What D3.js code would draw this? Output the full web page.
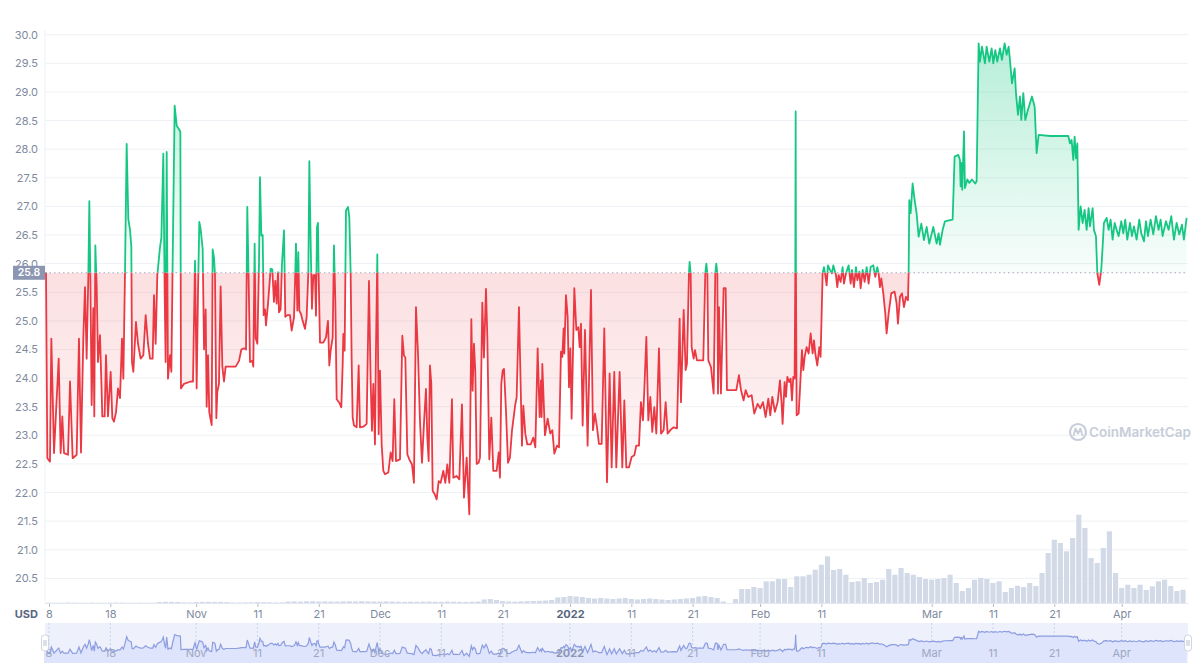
<!DOCTYPE html>
<html><head><meta charset="utf-8">
<script src="https://cdn.jsdelivr.net/npm/d3@7"></script>
<style>body{margin:0;background:#fff;}svg{display:block;font-family:Inter,"Noto Sans",sans-serif;}</style>
</head><body><svg id="c" width="1200" height="670"></svg>
<script>
// ---------- DATA ----------
const startDate = Date.UTC(2021, 9, 8); // day 0 = 8 Oct 2021
const priceDays = [
-0.82,-0.49,-0.27,0.16,0.38,0.82,1.58,1.9,2.17,2.45,3.1,3.43,3.86,4.51,4.89,5.22,5.6,5.87,6.14,6.42,6.58,6.74,6.96,7.23,7.39,7.56,7.78,7.99,8.32,8.54,8.7,9.08,9.3,9.62,10.06,10.33,10.6,10.93,11.26,11.58,11.91,12.13,12.4,12.67,12.94,13.21,13.43,13.54,13.76,14.19,14.52,14.95,15.39,15.77,16.15,16.48,16.91,17.13,17.4,17.67,18.11,18.33,18.65,18.87,19.03,19.2,19.41,19.74,19.96,20.17,20.5,20.83,21.21,21.43,21.53,22.02,23.11,23.49,23.82,24.09,24.31,24.52,24.74,25.07,25.29,25.56,25.72,25.94,26.15,26.54,26.7,26.92,27.08,27.3,27.46,27.73,28.0,28.28,28.55,28.82,29.64,30.45,31.0,31.38,31.81,32.14,32.35,32.57,32.79,33.17,33.33,33.55,33.71,33.99,34.26,34.42,34.64,34.86,35.02,35.24,35.4,35.73,36.16,36.43,36.7,36.92,37.14,37.36,37.52,37.79,38.01,38.34,38.55,38.88,39.31,
39.59,39.97,40.18,40.29,40.51,40.67,40.84,41.11,41.38,41.76,42.03,42.31,42.47,42.69,42.9,43.12,43.39,43.56,43.72,43.88,43.99,44.21,44.75,45.19,45.51,45.73,45.95,46.28,46.49,46.71,46.93,47.36,47.69,47.91,48.02,48.23,48.45,48.78,48.99,49.21,49.37,49.54,49.76,50.19,50.52,50.73,51.28,51.82,52.2,52.47,52.69,52.91,53.18,53.34,53.56,53.78,54.0,54.27,54.54,54.81,55.36,55.74,56.06,56.33,56.61,57.26,57.64,57.91,58.13,58.46,58.78,59.22,59.54,59.87,60.2,60.52,60.85,61.17,61.5,61.72,61.94,62.15,62.37,62.59,62.92,63.24,63.57,63.89,64.33,64.65,64.98,65.31,65.74,65.96,66.5,66.94,67.37,67.7,68.14,68.57,68.9,69.11,69.33,69.55,69.77,70.09,70.31,70.69,70.96,71.29,71.51,71.83,72.16,72.48,73.03,73.36,73.57,73.79,74.01,74.23,74.55,74.88,75.2,75.53,76.07,76.29,76.67,76.94,77.16,77.38,77.71,78.03,78.58,79.01,79.34,
79.72,80.04,80.26,80.37,80.48,80.91,81.35,81.78,82.11,82.44,82.87,83.2,83.52,83.74,83.96,84.07,84.34,84.61,84.83,85.05,85.26,85.7,86.03,86.35,86.57,86.79,87.06,87.44,87.87,88.42,88.74,89.07,89.4,89.72,90.16,90.59,91.03,91.46,91.79,92.22,92.55,93.09,93.53,93.86,94.18,94.62,95.05,95.49,95.81,96.25,96.57,96.9,97.12,97.45,97.77,98.1,98.42,98.75,99.08,99.51,99.84,100.27,100.6,100.92,101.36,101.9,102.45,102.88,103.1,103.54,103.86,104.08,104.4,104.51,104.68,104.84,105.17,105.38,105.71,106.74,107.07,107.24,107.4,107.56,108.0,108.43,108.7,108.86,109.03,109.14,109.3,109.62,110.06,110.39,110.6,112.13,112.56,112.89,113.32,113.65,114.08,114.63,115.06,115.61,116.04,116.48,116.91,117.35,117.67,118.0,118.43,118.87,
119.25,119.52,119.68,120.01,120.23,120.45,120.77,120.99,121.21,121.42,121.64,121.75,121.81,121.86,121.97,122.3,122.51,122.84,123.06,123.28,123.6,123.93,124.26,124.58,124.8,125.01,125.34,125.67,125.88,126.21,126.43,126.64,126.86,127.08,127.41,127.73,127.95,128.38,128.6,128.82,129.15,129.47,129.69,130.02,130.45,130.78,131.0,131.32,131.65,131.87,132.2,132.41,132.74,133.06,133.39,133.71,134.04,134.48,134.8,135.13,135.34,135.56,135.78,136.11,136.43,136.65,136.98,137.41,137.95,138.28,138.5,138.83,139.15,139.48,139.8,140.13,140.24,140.35,140.57,140.89,141.22,141.54,141.87,142.31,142.74,143.18,143.61,144.26,144.81,145.13,
145.35,145.79,146.17,146.98,147.42,147.74,148.34,148.61,148.72,148.83,148.99,149.27,149.43,149.81,150.14,150.57,151.11,151.33,151.66,151.88,152.2,152.69,152.96,153.4,153.78,154.05,154.38,154.7,155.14,155.46,155.9,156.23,156.56,156.77,157.1,157.54,157.75,158.08,158.4,158.62,158.95,159.27,159.71,160.36,160.8,161.12,161.45,163.3,166.29,166.56,166.83,167.1,167.32,167.54,167.76,167.97,168.3,168.62,168.95,169.28,169.6,169.82,170.26,170.47,170.8,171.02,171.34,171.67,171.89,172.1,172.54,172.87,173.19,173.52,173.85,174.17,174.5,174.93,175.26,175.58,175.91,176.35,176.67,177.0,177.43,177.87,178.19,178.63,178.96,179.28,179.72,180.15,180.59,181.02,181.35,181.67,182.22,182.65,183.09,183.52,183.96,184.39,184.83,185.15,185.59
];
const priceValues = [
25.84,25.84,22.6,22.54,24.69,22.69,24.34,22.69,23.33,22.69,22.66,23.94,22.6,22.66,24.69,22.7,24.7,25.59,24.34,25.8,27.09,25.8,23.53,25.22,23.33,26.32,25.6,24.28,24.75,23.94,23.33,23.33,24.4,23.33,24.11,23.3,23.24,23.4,23.82,23.65,24.69,23.99,25.85,28.09,26.78,26.6,26.3,24.28,24.11,24.98,24.6,24.34,24.4,25.1,24.6,24.34,24.34,25.45,24.6,25.8,26.29,26.45,27.92,25.5,24.28,27.95,23.99,24.4,24.11,26.0,28.76,28.41,28.35,28.3,23.82,23.9,23.94,23.94,26.05,23.82,25.5,26.73,26.6,26.26,24.5,25.2,23.5,24.4,23.4,23.18,26.25,26.1,25.8,23.3,23.76,23.9,25.6,24.2,23.94,24.2,24.2,24.2,24.3,24.5,24.52,24.5,26.99,25.7,24.28,24.3,24.2,26.35,24.7,24.6,26.0,27.51,26.49,26.5,25.1,25.2,24.92,25.3,25.91,25.9,25.33,25.7,25.3,25.85,25.15,25.2,26.0,26.58,25.07,25.1,25.1,
24.83,25.06,25.85,26.35,25.18,26.2,25.18,25.12,25.0,24.86,25.06,25.85,27.79,26.35,25.21,25.8,25.8,25.09,26.64,26.71,25.8,24.62,24.62,24.71,25.0,24.22,24.48,24.71,26.32,25.35,23.63,23.57,23.49,24.24,24.77,24.48,26.93,26.99,26.81,25.85,24.36,23.31,23.17,23.14,24.22,23.14,23.15,23.2,25.7,23.95,23.08,23.9,22.84,24.48,26.16,23.02,24.13,22.84,22.38,22.32,22.35,22.7,22.55,23.63,22.55,22.58,24.74,24.39,24.36,22.67,22.58,22.49,22.17,25.24,24.42,23.25,22.52,23.2,23.81,22.96,22.55,24.22,23.9,22.03,21.97,21.88,22.2,22.17,22.38,22.17,22.49,22.17,23.63,22.26,22.29,22.23,23.54,21.91,22.61,21.62,25.03,23.78,24.6,24.1,22.5,22.52,22.61,25.32,24.36,25.56,24.71,22.58,23.31,22.38,22.38,22.7,22.26,23.9,24.13,24.16,23.43,22.52,22.61,23.08,23.54,23.66,25.24,23.9,22.82,23.52,23.02,22.84,22.84,22.96,22.79,
24.52,23.32,23.96,23.32,24.25,23.0,23.29,23.03,23.09,22.68,22.82,22.79,24.46,24.37,24.87,24.43,25.45,25.07,23.84,24.52,23.29,25.57,24.84,24.89,24.54,24.95,23.17,24.84,22.82,25.54,23.09,23.38,23.14,22.85,22.85,24.87,22.18,24.08,22.44,24.11,22.44,24.11,22.44,23.61,22.44,22.44,22.62,22.65,22.82,22.82,23.58,23.26,23.79,24.72,23.26,23.67,23.06,23.49,23.03,24.52,23.03,23.09,23.58,23.03,23.09,23.14,23.12,25.04,23.58,25.19,24.14,24.25,25.83,26.03,25.83,24.54,24.34,24.49,24.31,24.31,25.83,26.0,25.83,24.31,24.19,23.73,25.83,26.0,25.83,23.73,25.24,23.73,25.57,25.57,23.79,23.79,24.05,23.79,23.61,23.79,23.67,23.7,23.38,23.55,23.47,23.58,23.32,23.64,23.35,23.67,23.41,23.58,
23.96,23.55,23.2,23.93,23.67,24.02,23.93,23.99,23.61,24.02,23.99,25.83,28.66,25.83,23.35,23.38,23.79,24.49,24.14,24.37,24.54,24.43,24.78,24.43,24.66,24.43,24.22,24.54,24.37,25.83,25.94,25.8,25.62,25.97,25.89,25.83,25.97,25.8,25.59,25.8,25.68,25.94,25.65,25.83,25.97,25.65,25.89,25.59,25.94,25.71,25.86,25.57,25.89,25.68,25.94,25.65,25.94,25.97,25.77,25.94,25.83,25.59,25.74,25.48,25.13,24.78,25.13,25.48,25.51,25.3,24.95,25.42,25.48,25.24,25.42,25.36,25.83,27.11,26.88,27.4,27.11,26.88,26.47,26.7,26.41,26.64,26.35,26.64,26.35,26.53,
26.33,26.59,26.74,26.76,26.77,27.87,27.9,27.81,27.35,27.76,27.29,28.31,27.32,27.47,27.41,27.47,27.4,27.44,29.85,29.53,29.79,29.5,29.79,29.53,29.76,29.5,29.73,29.53,29.76,29.56,29.85,29.65,29.79,29.56,29.15,29.41,28.98,28.6,28.92,28.51,28.98,28.51,28.69,28.92,28.74,27.93,28.25,28.23,28.23,28.1,28.16,27.81,28.22,27.84,28.1,26.59,27.0,26.71,26.94,26.59,26.97,26.65,26.97,26.59,26.48,25.84,25.63,25.9,26.3,26.71,26.8,26.59,26.77,26.42,26.71,26.59,26.48,26.74,26.53,26.77,26.42,26.71,26.48,26.65,26.42,26.77,26.53,26.39,26.74,26.48,26.77,26.51,26.83,26.59,26.77,26.48,26.74,26.59,26.83,26.42,26.71,26.51,26.68,26.42,26.8
];
// daily volume (relative units), day 0 = 8 Oct 2021
const volumeValues = [
0.4,0.3,0.3,0.5,0.4,0.3,0.3,0.4,0.3,0.3,0.4,0.5,0.4,0.3,0.3,0.4,0.3,0.3,
1.0,1.2,1.1,1.0,0.6,0.5,1.0,1.1,1.2,1.0,1.1,0.9,0.5,
0.5,0.6,0.7,0.9,0.8,0.7,0.5,0.6,
1.5,1.6,1.4,1.7,1.8,1.5,1.6,1.5,1.4,1.6,1.7,1.5,1.8,1.6,1.5,1.4,1.6,1.5,1.3,
1.2,1.3,1.2,1.4,1.5,1.3,1.2,1.4,1.3,1.2,1.1,1.3,1.5,
3.5,4.0,3.0,2.0,1.5,1.4,1.6,1.8,
2.0,2.2,2.5,3.0,5.5,6.0,
7,6.5,6,5,
4.5,5,4.5,4,4.5,5,4,3.5,4,4.5,4,3.5,3,3.5,4,4.5,5,
6.5,7,6,5,1.5,0,
4,14,14,16,15,21.7,21.7,24,24,16,26.7,26.7,28.3,33.3,38.3,46.7,33,34,28.3,21,21.7,25,20,21,23.3,34,28.3,35,30,28.3,26,24,23.3,24,25,28.3,20,12,15,23.3,25,24,20,21.7,11,15,17.3,16,20,17,30,50,63.3,60,51.7,65,88.3,75,45,40,55,71.7,30,15,18.3,15,18.3,13,16.7,21.7,23.3,17,12,13.3
];
const yTicks = [20.5,21.0,21.5,22.0,22.5,23.0,23.5,24.0,24.5,25.0,25.5,26.0,26.5,27.0,27.5,28.0,28.5,29.0,29.5,30.0];
const xTickDates = ["2021-10-08","2021-10-18","2021-11-01","2021-11-11","2021-11-21","2021-12-01","2021-12-11","2021-12-21","2022-01-01","2022-01-11","2022-01-21","2022-02-01","2022-02-11","2022-03-01","2022-03-11","2022-03-21","2022-04-01"];
const xTickLabels = ["8","18","Nov","11","21","Dec","11","21","2022","11","21","Feb","11","Mar","11","21","Apr"];
const currencyLabel = "USD";
const watermarkText = "CoinMarketCap";

// ---------- CHART ----------
const svg = d3.select("#c");
const dayMs = 86400000;
const toDate = d => new Date(startDate + d * dayMs);
const parseDay = s => new Date(s + "T00:00:00Z");
const L = 45, R = 1188, B = 603, T = 30;

const x = d3.scaleUtc().domain([parseDay("2021-10-08"), parseDay("2022-04-01")]).range([49, 1121.7]);
const y = d3.scaleLinear().domain([20.07, 30]).range([B, 34.7]);
const vy = d3.scaleLinear().domain([0, 100]).range([B, B - 100]);

const data = priceDays.map((d, i) => ({t: toDate(d), v: priceValues[i]}));
const base = priceValues[0];
const yb = y(base);

const defs = svg.append("defs");
defs.append("clipPath").attr("id","plot").append("rect").attr("x",L).attr("y",0).attr("width",R-L).attr("height",B);
defs.append("clipPath").attr("id","above").append("rect").attr("x",L).attr("y",0).attr("width",R-L+4).attr("height",yb);
defs.append("clipPath").attr("id","below").append("rect").attr("x",L).attr("y",yb).attr("width",R-L+4).attr("height",B-yb);
const gG = defs.append("linearGradient").attr("id","gGreen").attr("gradientUnits","userSpaceOnUse").attr("x1",0).attr("x2",0).attr("y1",y(30)).attr("y2",yb);
gG.append("stop").attr("offset",0).attr("stop-color","#16c784").attr("stop-opacity",0.32);
gG.append("stop").attr("offset",1).attr("stop-color","#16c784").attr("stop-opacity",0.03);
const gR = defs.append("linearGradient").attr("id","gRed").attr("gradientUnits","userSpaceOnUse").attr("x1",0).attr("x2",0).attr("y1",yb).attr("y2",y(21.6));
gR.append("stop").attr("offset",0).attr("stop-color","#ea3943").attr("stop-opacity",0.16);
gR.append("stop").attr("offset",1).attr("stop-color","#ea3943").attr("stop-opacity",0.02);

// gridlines
svg.append("g").selectAll("line").data(yTicks).join("line")
  .attr("x1",L).attr("x2",R).attr("y1",d=>y(d)).attr("y2",d=>y(d))
  .attr("stroke","#eef1f5").attr("stroke-width",1);
svg.append("line").attr("x1",L).attr("x2",L).attr("y1",T).attr("y2",B).attr("stroke","#eef1f6");

// volume bars
svg.append("g").attr("clip-path","url(#plot)").selectAll("rect").data(volumeValues).join("rect")
  .attr("x",(v,i)=>x(toDate(i-0.5))+0.5)
  .attr("width",(v,i)=>Math.max(0.5, x(toDate(i+0.5))-x(toDate(i-0.5))-1))
  .attr("y",v=>vy(v)).attr("height",v=>B-vy(v))
  .attr("fill","#d2d9e7");

// areas + lines
const area = d3.area().x(d=>x(d.t)).y0(yb).y1(d=>y(d.v));
const line = d3.line().x(d=>x(d.t)).y(d=>y(d.v));
svg.append("path").datum(data).attr("d",area).attr("fill","url(#gGreen)").attr("clip-path","url(#above)");
svg.append("path").datum(data).attr("d",area).attr("fill","url(#gRed)").attr("clip-path","url(#below)");
svg.append("path").datum(data).attr("d",line).attr("fill","none").attr("stroke","#16c784").attr("stroke-width",1.8).attr("stroke-linejoin","round").attr("clip-path","url(#above)");
svg.append("path").datum(data).attr("d",line).attr("fill","none").attr("stroke","#ea3943").attr("stroke-width",1.8).attr("stroke-linejoin","round").attr("clip-path","url(#below)");

// baseline
svg.append("line").attr("x1",L).attr("x2",R).attr("y1",yb).attr("y2",yb)
  .attr("stroke","#a3acc2").attr("stroke-width",1).attr("stroke-dasharray","1.5,3");

// y labels
svg.append("g").selectAll("text").data(yTicks).join("text")
  .attr("x",38).attr("y",d=>y(d)+4).attr("text-anchor","end")
  .attr("font-size",11).attr("fill","#808a9d").text(d=>d3.format(".1f")(d));

// baseline label box
svg.append("rect").attr("x",13).attr("y",yb-7).attr("width",32).attr("height",14).attr("fill","#8c96b2");
svg.append("text").attr("x",29).attr("y",yb+3.7).attr("text-anchor","middle").attr("font-size",10.5).attr("font-weight",600)
  .attr("fill","#fff").text(d3.format(".1f")(base));

// x axis
const xAxis = d3.axisBottom(x).tickValues(xTickDates.map(parseDay)).tickFormat((d,i)=>xTickLabels[i]).tickSize(4).tickSizeOuter(0);
const ax = svg.append("g").attr("transform",`translate(0,${B})`).call(xAxis);
ax.select(".domain").remove();
svg.append("line").attr("x1",L).attr("x2",R).attr("y1",B+0.5).attr("y2",B+0.5).attr("stroke","#e3e8f0");
ax.selectAll(".tick line").attr("stroke","#b3bccf");
ax.selectAll(".tick text").attr("font-size",11).attr("fill","#808a9d").attr("font-family","Inter,'Noto Sans',sans-serif")
  .attr("font-weight",(d,i)=>xTickLabels[i]==="2022"?700:400)
  .attr("fill",(d,i)=>xTickLabels[i]==="2022"?"#58667e":"#808a9d");
svg.append("text").attr("x",38).attr("y",618).attr("text-anchor","end").attr("font-size",11).attr("font-weight",700)
  .attr("fill","#58667e").text(currencyLabel);

// watermark
const wm = svg.append("g").attr("fill","#c7cdd9");
wm.append("circle").attr("cx",1078).attr("cy",432).attr("r",8).attr("fill","none").attr("stroke","#c7cdd9").attr("stroke-width",2.2);
wm.append("path").attr("d","M1073.5,436 L1075.5,428.5 L1078,433.5 L1080.5,428.5 L1082.5,436").attr("fill","none").attr("stroke","#c7cdd9").attr("stroke-width",1.8).attr("stroke-linejoin","round");
wm.append("text").attr("x",1089).attr("y",437).attr("font-size",13.5).attr("font-weight",600).text(watermarkText);

// navigator
const nTop = 623, nBot = 663;
const ny = d3.scaleLinear().domain([20, 30]).range([661.3, 630.8]);
const nav = svg.append("g");
nav.append("rect").attr("x",L).attr("y",nTop).attr("width",R-L).attr("height",nBot-nTop).attr("fill","#eef1fc");
nav.selectAll("line.g").data(xTickDates).join("line").attr("class","g")
  .attr("x1",d=>x(parseDay(d))).attr("x2",d=>x(parseDay(d))).attr("y1",nTop).attr("y2",nBot)
  .attr("stroke","#c9d1ef").attr("stroke-dasharray","2,2");
nav.append("path").datum(data).attr("d",d3.area().x(d=>x(d.t)).y0(nBot).y1(d=>ny(d.v))).attr("fill","#dde4fb");
nav.append("path").datum(data).attr("d",d3.line().x(d=>x(d.t)).y(d=>ny(d.v))).attr("fill","none").attr("stroke","#8d9de0").attr("stroke-width",1.2);
nav.selectAll("text").data(xTickDates).join("text")
  .attr("x",d=>x(parseDay(d))).attr("y",657).attr("text-anchor","middle").attr("font-size",11)
  .attr("fill",(d,i)=>xTickLabels[i]==="2022"?"#8d96b3":"#9ea7c2").attr("font-weight",(d,i)=>xTickLabels[i]==="2022"?700:400)
  .text((d,i)=>xTickLabels[i]);
[L, R].forEach(hx=>{
  nav.append("rect").attr("x",hx-3.5).attr("y",635).attr("width",7).attr("height",16).attr("rx",3)
    .attr("fill","#fff").attr("stroke","#cfd5e2");
  nav.append("line").attr("x1",hx-1).attr("x2",hx-1).attr("y1",640).attr("y2",646).attr("stroke","#b8c0d2");
  nav.append("line").attr("x1",hx+1).attr("x2",hx+1).attr("y1",640).attr("y2",646).attr("stroke","#b8c0d2");
});
</script></body></html>
